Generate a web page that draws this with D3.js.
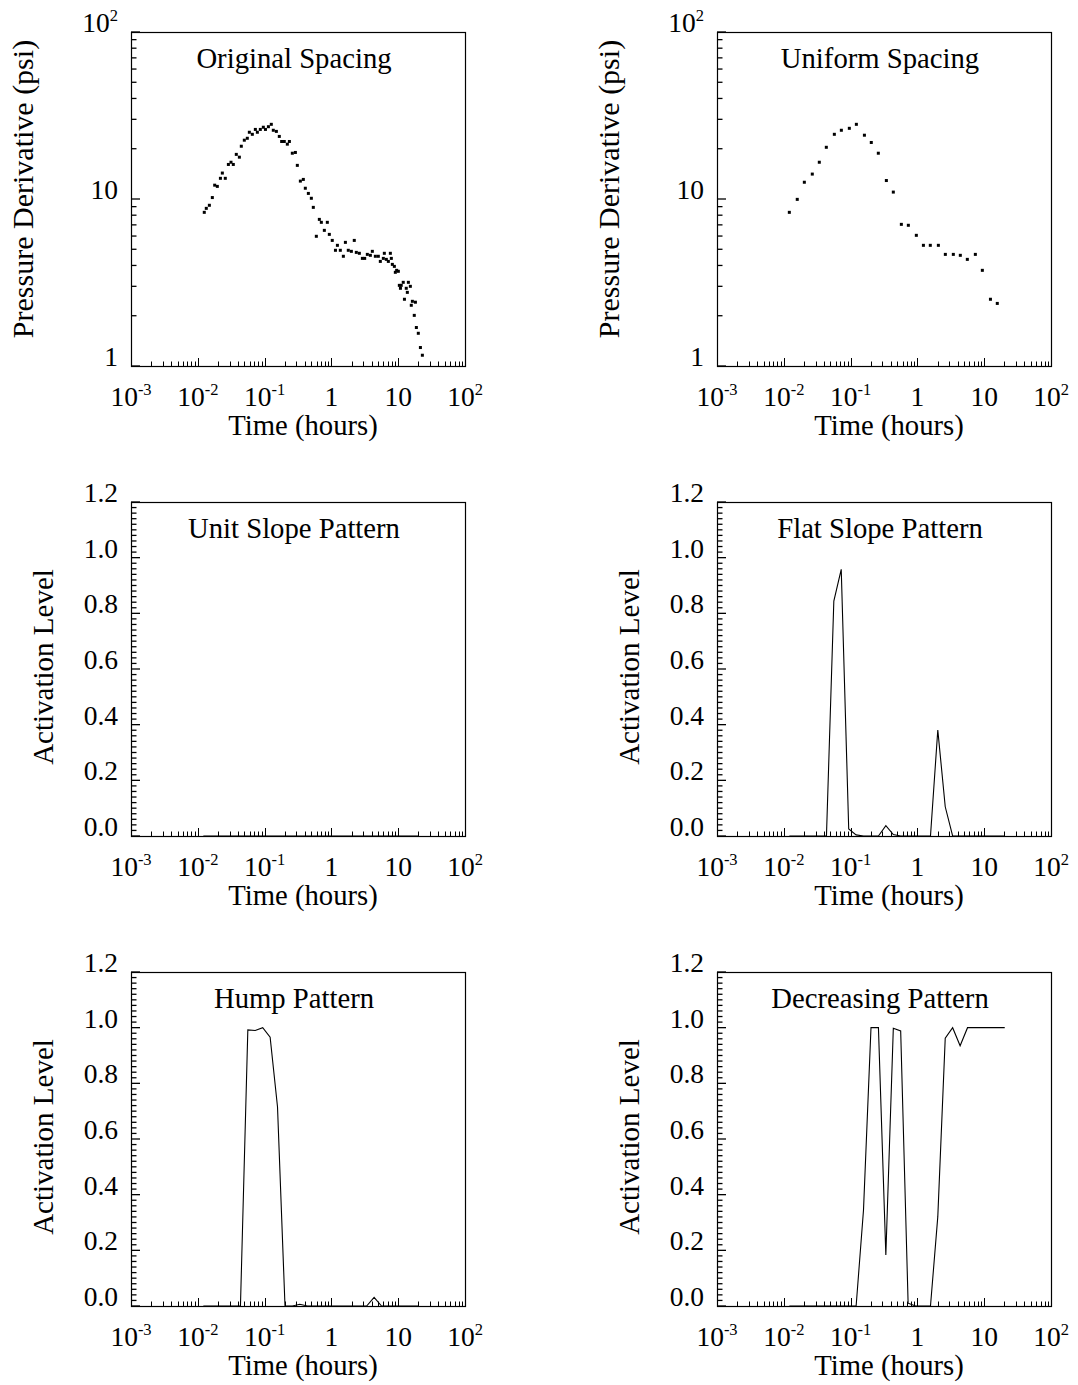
<!DOCTYPE html>
<html>
<head>
<meta charset="utf-8">
<script src="https://cdn.jsdelivr.net/npm/d3@7"></script>
<style>
	body{margin:0;background:#fff;}
	text{font-family:"Liberation Serif","Times New Roman",serif;fill:#000;}
</style>
</head>
<body>
<div id="chart"></div>
<script>
//Original spacing: time (hours) and pressure derivative (psi)
const origTime = [0.0125,0.0134,0.0149,0.0165,0.0179,0.0196,0.0218,0.0233,0.0258,0.0287,
	0.0314,0.0340,0.0377,0.0419,0.0448,0.0497,0.0551,0.0591,0.0655,0.0727,
	0.0779,0.0863,0.0957,0.103,0.114,0.126,0.135,0.150,0.166,0.180,
	0.197,0.219,0.235,0.260,0.289,0.309,0.343,0.380,0.407,0.452,
	0.501,0.536,0.595,0.660,0.707,0.784,0.869,0.931,1.03,1.15,
	1.23,1.36,1.51,1.62,1.79,1.99,2.20,2.36,2.62,2.91,
	3.15,3.45,3.83,4.10,4.55,5.04,5.40,5.99,6.20,6.64,
	7.12,7.63,7.89,8.17,8.76,9.06,9.48,10.05,10.4,10.8,
	11.1,11.9,12.4,13.2,13.7,14.2,15.2,15.7,16.3,18.1,
	17.4,18.7,20.0,21.5,23.0];
const origDeriv = [8.32,8.79,9.17,10.2,12.1,11.9,13.3,14.3,13.3,16.1,
	16.6,16.1,18.5,17.8,20.7,22.5,23.1,25.1,24.4,26.1,
	25.1,26.1,26.9,26.1,27.1,28.0,25.8,25.4,23.7,22.1,
	22.1,21.3,22.1,18.8,19.0,15.9,12.8,13.1,11.6,10.8,
	10.1,8.91,5.98,7.55,7.25,6.49,7.25,6.14,5.65,4.93,
	5.28,4.93,4.54,5.50,4.93,4.86,5.65,4.79,4.73,4.41,
	4.41,4.66,4.60,4.86,4.54,4.54,4.23,4.41,4.73,4.35,
	4.23,4.73,4.41,4.06,3.95,3.64,3.74,3.69,3.04,2.92,
	3.04,3.17,2.51,2.92,2.76,3.17,3.00,2.31,2.44,2.41,
	2.01,1.70,1.57,1.29,1.16];

//Uniform spacing
const unifTime = [0.0121,0.0159,0.0203,0.0267,0.0340,0.0433,0.0571,0.0727,0.0957,0.122,
	0.161,0.204,0.260,0.343,0.436,0.575,0.732,0.964,1.23,1.56,
	2.06,2.62,3.45,4.39,5.59,7.37,9.38,12.4,15.7];
const unifDeriv = [8.32,9.95,12.6,14.1,16.6,20.4,24.4,25.8,26.5,28.0,
	24.1,21.8,18.8,12.9,11.0,7.05,6.96,6.06,5.28,5.28,
	5.28,4.66,4.66,4.60,4.35,4.66,3.74,2.51,2.37];

//Activation levels of the pattern detectors
const actTime = [0.0121,0.0156,0.0201,0.0261,0.0337,0.0435,0.0561,0.0724,0.0937,0.121,
	0.156,0.202,0.261,0.337,0.436,0.562,0.726,0.938,1.21,1.57,
	2.02,2.61,3.37,4.36,5.63,7.28,9.40,12.1,15.7,20.3];
const unitSlope = [0,0,0,0,0,0,0,0,0,0, 0,0,0,0,0,0,0,0,0,0, 0,0,0,0,0,0,0,0,0,0];
const flatSlope = [0,0,0,0,0,0,0.844,0.958,0.025,0.004, 0,0,0,0.037,0.005,0,0,0,0,0,
	0.381,0.105,0,0,0,0,0,0,0,0];
const hump = [0,0,0,0,0,0,0.992,0.990,1.0,0.966, 0.716,0,0,0.006,0,0,0,0,0,0,
	0,0,0,0.031,0,0,0,0,0,0];
const decreasing = [0,0,0,0,0,0,0,0,0,0, 0.345,1.0,1.0,0.183,0.998,0.988,0.010,0,0,0,
	0.321,0.962,1.0,0.935,1.0,1.0,1.0,1.0,1.0,1.0];

//Axis labels
const xTickValues = [1e-3,1e-2,1e-1,1,10,100];
const xTickLabels = ['10^-3','10^-2','10^-1','1','10','10^2'];
const yLogTickValues = [1,10,100];
const yLogTickLabels = ['1','10','10^2'];
const yLinTickValues = [0,0.2,0.4,0.6,0.8,1.0,1.2];
const yLinTickLabels = ['0.0','0.2','0.4','0.6','0.8','1.0','1.2'];

//Layout
const W = 1078, H = 1385;
const pw = 334, ph = 334;
const colX = [131, 717];
const rowY = [32, 502, 972];

const svg = d3.select('#chart').append('svg').attr('width',W).attr('height',H);
svg.append('rect').attr('width',W).attr('height',H).attr('fill','#fff');

const x = d3.scaleLog().domain([1e-3,1e2]).range([0,pw]);
const yLog = d3.scaleLog().domain([1,100]).range([ph,0]);
const yLin = d3.scaleLinear().domain([0,1.2]).range([ph,0]);

//Write "10^-3" style text as base + superscript
function writeLabel(sel, str){
	const parts = str.split('^');
	sel.append('tspan').text(parts[0]);
	if(parts[1]){
		sel.append('tspan').attr('font-size',16.5).attr('dy',-11.5).text(parts[1]);
	}
}

const panels = [
	{col:0,row:0,title:'Original Spacing',kind:'dots',t:origTime,v:origDeriv},
	{col:1,row:0,title:'Uniform Spacing',kind:'dots',t:unifTime,v:unifDeriv},
	{col:0,row:1,title:'Unit Slope Pattern',kind:'line',t:actTime,v:unitSlope},
	{col:1,row:1,title:'Flat Slope Pattern',kind:'line',t:actTime,v:flatSlope},
	{col:0,row:2,title:'Hump Pattern',kind:'line',t:actTime,v:hump},
	{col:1,row:2,title:'Decreasing Pattern',kind:'line',t:actTime,v:decreasing}
];

panels.forEach(p => {
	const g = svg.append('g').attr('transform',`translate(${colX[p.col]},${rowY[p.row]})`);
	const isLog = p.kind === 'dots';
	const y = isLog ? yLog : yLin;

	//x ticks (inside)
	const xt = x.ticks();
	g.selectAll('line.xtick').data(xt).enter().append('line').attr('class','xtick')
		.attr('x1',d => Math.round(x(d)) + 0.5).attr('x2',d => Math.round(x(d)) + 0.5)
		.attr('y1',ph).attr('y2',d => ph - (xTickValues.includes(d) ? 8 : 4.5))
		.attr('stroke','#000').attr('stroke-width',1);

	//y ticks (inside)
	const yt = isLog ? yLog.ticks() : d3.range(0,61).map(i => i*0.02);
	const ymaj = isLog ? yLogTickValues : yLinTickValues;
	g.selectAll('line.ytick').data(yt).enter().append('line').attr('class','ytick')
		.attr('x1',0).attr('x2',d => (ymaj.some(m => Math.abs(m-d)<1e-9) ? 9 : 5.5))
		.attr('y1',d => y(d)).attr('y2',d => y(d))
		.attr('stroke','#000').attr('stroke-width',1.3);

	//frame
	g.append('rect').attr('x',0.5).attr('y',0.5).attr('width',pw).attr('height',ph)
		.attr('fill','none').attr('stroke','#000').attr('stroke-width',1.2);

	//x tick labels
	xTickValues.forEach((v,i) => {
		const t = g.append('text').attr('x',x(v)).attr('y',ph+40)
			.attr('text-anchor','middle').attr('font-size',27.5);
		writeLabel(t, xTickLabels[i]);
	});

	//y tick labels
	const ylabs = isLog ? yLogTickLabels : yLinTickLabels;
	ymaj.forEach((v,i) => {
		const t = g.append('text').attr('x',-13).attr('y',y(v))
			.attr('text-anchor','end').attr('font-size',27.5);
		writeLabel(t, ylabs[i]);
	});

	//titles
	g.append('text').attr('x',pw/2 - 4).attr('y',36)
		.attr('text-anchor','middle').attr('font-size',28.7).text(p.title);
	g.append('text').attr('x',pw/2 + 5).attr('y',ph+69)
		.attr('text-anchor','middle').attr('font-size',28.7).text('Time (hours)');
	const yl = isLog ? 'Pressure Derivative (psi)' : 'Activation Level';
	const ylx = isLog ? -98 : -78;
	g.append('text').attr('transform',`translate(${ylx},${ph/2 - (isLog ? 10 : 2)}) rotate(-90)`)
		.attr('text-anchor','middle').attr('font-size',isLog ? 30 : 29).text(yl);

	//marks
	const data = p.t.map((t,i) => ({t, v:p.v[i]}));
	if(isLog){
		g.selectAll('rect.dot').data(data).enter().append('rect').attr('class','dot')
			.attr('x',d => x(d.t) - 1.5).attr('y',d => yLog(d.v) - 1.5)
			.attr('width',3).attr('height',3).attr('fill','#000');
	}else{
		const line = d3.line().x(d => x(d.t)).y(d => yLin(d.v));
		g.append('path').datum(data).attr('d',line)
			.attr('fill','none').attr('stroke','#000').attr('stroke-width',1.1);
	}
});
</script>
</body>
</html>
